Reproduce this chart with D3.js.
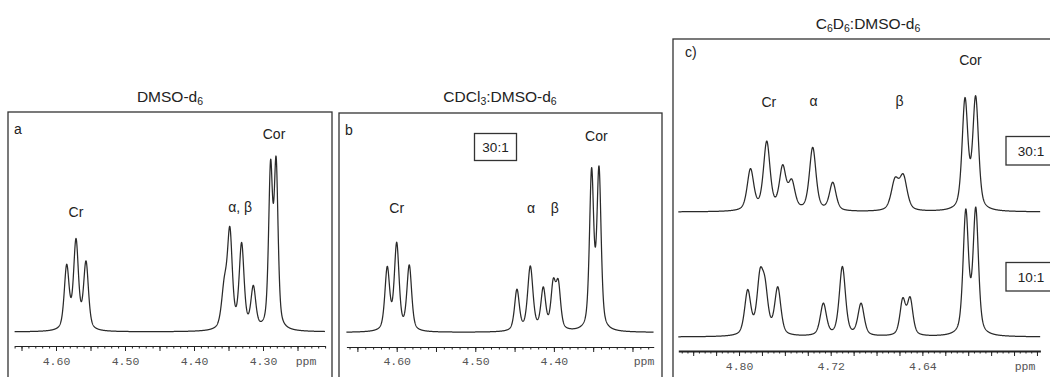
<!DOCTYPE html>
<html><head><meta charset="utf-8">
<script src="https://cdn.jsdelivr.net/npm/d3@7"></script>
<style>html,body{margin:0;padding:0;background:#fff;} svg{display:block;}</style>
</head><body>
<svg id="chart" width="1050" height="377"></svg>
<script>
// ---------------- DATA ----------------
// Panel a: DMSO-d6  (peak position ppm, intensity, half-width ppm)
const aPpm = [4.5845, 4.5710, 4.5565, 4.3560, 4.3480, 4.3310, 4.3140, 4.2890, 4.2810];
const aInt = [63, 88, 67, 40, 94, 84, 41, 157, 161];
const aHw  = [0.0042, 0.0042, 0.0042, 0.0048, 0.0042, 0.0042, 0.0042, 0.0034, 0.0034];
// Panel b: CDCl3:DMSO-d6 30:1
const bPpm = [4.6120, 4.6000, 4.5840, 4.4470, 4.4300, 4.4135, 4.4008, 4.3944, 4.3520, 4.3426];
const bInt = [62, 86, 65, 41, 64, 41, 44, 44, 156, 158];
const bHw  = [0.0036, 0.0036, 0.0036, 0.0036, 0.0040, 0.0036, 0.0035, 0.0035, 0.0032, 0.0032];
// Panel c: C6D6:DMSO-d6 30:1 (upper trace)
const c30Ppm = [4.7900, 4.7758, 4.7619, 4.7540, 4.7357, 4.7182, 4.6639, 4.6566, 4.6028, 4.5935];
const c30Int = [41, 68, 42, 27, 63, 28, 29, 33, 109, 111];
const c30Hw  = [0.0034, 0.0034, 0.0034, 0.0034, 0.0034, 0.0034, 0.0039, 0.0039, 0.0030, 0.0030];
// Panel c: C6D6:DMSO-d6 10:1 (lower trace)
const c10Ppm = [4.7924, 4.7817, 4.7773, 4.7662, 4.7264, 4.7098, 4.6935, 4.6571, 4.6507, 4.6021, 4.5934];
const c10Int = [44, 53, 40, 47, 32, 69, 32, 35, 36, 122, 124];
const c10Hw  = [0.0032, 0.0032, 0.0032, 0.0032, 0.0032, 0.0032, 0.0032, 0.0029, 0.0029, 0.0028, 0.0028];

// axis tick labels
const aTickLabels = [4.60, 4.50, 4.40, 4.30];
const bTickLabels = [4.60, 4.50, 4.40];
const cTickLabels = [4.80, 4.72, 4.64];

// peak annotation labels
const aLabels = [["Cr", 4.5710], ["α, β", 4.3330], ["Cor", 4.2840]];
const bLabels = [["Cr", 4.6000], ["α", 4.4290], ["β", 4.3990], ["Cor", 4.3460]];
const cLabels = [["Cr", 4.7740], ["α", 4.7350], ["β", 4.6600], ["Cor", 4.5980]];

// ---------------- DRAWING ----------------
const svg = d3.select("#chart");
const SANS = "'Liberation Sans', Arial, Helvetica, sans-serif";
const MONO = "'Liberation Mono', 'Courier New', monospace";
const INK = "#222";
const ETA = 0.5; // Lorentzian fraction of the line shape

function spectrumValue(ppms, ints, hws, p) {
  let s = 0;
  for (let i = 0; i < ppms.length; i++) {
    const u = (p - ppms[i]) / hws[i];
    s += ints[i] * (ETA / (1 + u * u) + (1 - ETA) * Math.exp(-Math.LN2 * u * u));
  }
  return s;
}

function title(g, parts, x, y) {
  const t = g.append("text").attr("x", x).attr("y", y).attr("text-anchor", "middle")
    .attr("font-family", SANS).attr("font-size", 15.5).attr("fill", INK);
  parts.forEach(([s, sub], i) => {
    const ts = t.append("tspan").text(s);
    if (sub) ts.attr("font-size", 10.5).attr("dy", 3);
    else ts.attr("dy", (i > 0 && parts[i - 1][1]) ? -3 : 0);
  });
}

function drawPanel(cfg) {
  const g = svg.append("g");
  g.append("rect").attr("x", cfg.box[0]).attr("y", cfg.box[1])
    .attr("width", cfg.box[2]).attr("height", 400)
    .attr("fill", "none").attr("stroke", "#333").attr("stroke-width", 1.3);

  const x = d3.scaleLinear().domain(cfg.domain).range(cfg.range);

  cfg.traces.forEach(tr => {
    const y = d3.scaleLinear().domain([0, 100]).range([tr.base, tr.base - 100]);
    const pts = [];
    const step = 0.0002;
    for (let p = cfg.domain[0]; p >= cfg.domain[1]; p -= step) {
      pts.push([p, spectrumValue(tr.ppm, tr.int, tr.hw, p)]);
    }
    const line = d3.line().x(d => x(d[0])).y(d => y(d[1]));
    g.append("path").attr("d", line(pts)).attr("fill", "none")
      .attr("stroke", "#2a2a2a").attr("stroke-width", 1.25).attr("stroke-linejoin", "round");
  });

  const lo = Math.min(...cfg.domain), hi = Math.max(...cfg.domain);
  const minor = d3.range(Math.ceil(lo / cfg.minorStep - 1e-6), Math.floor(hi / cfg.minorStep + 1e-6) + 1)
    .map(k => +(k * cfg.minorStep).toFixed(4));
  const major = d3.range(Math.ceil(lo / cfg.majorStep - 1e-6), Math.floor(hi / cfg.majorStep + 1e-6) + 1)
    .map(k => +(k * cfg.majorStep).toFixed(4));

  const axMinor = g.append("g").attr("transform", `translate(0,${cfg.axisY})`)
    .call(d3.axisBottom(x).tickValues(minor).tickSize(2.5).tickSizeOuter(0).tickFormat(""));
  const axMajor = g.append("g").attr("transform", `translate(0,${cfg.axisY})`)
    .call(d3.axisBottom(x).tickValues(major).tickSize(5).tickSizeOuter(0).tickFormat(""));
  const axLab = g.append("g").attr("transform", `translate(0,${cfg.axisY})`)
    .call(d3.axisBottom(x).tickValues(cfg.tickLabels).tickSize(0).tickPadding(cfg.labPad)
      .tickFormat(d3.format(".2f")));
  axLab.select(".domain").remove();
  axMinor.select(".domain").remove();
  axMajor.select(".domain").attr("stroke", INK).attr("stroke-width", cfg.axisW);
  [axMinor, axMajor].forEach(a => a.selectAll(".tick line").attr("stroke", INK).attr("stroke-width", 1));
  axLab.selectAll("text").attr("font-family", MONO).attr("font-size", 11.5).attr("fill", "#555");
  g.append("text").attr("x", cfg.ppmX).attr("y", cfg.axisY + cfg.labPad)
    .attr("dy", "0.71em").attr("text-anchor", "middle")
    .attr("font-family", MONO).attr("font-size", 11.5).attr("fill", "#555").text("ppm");

  g.append("text").attr("x", cfg.letter[1]).attr("y", cfg.letter[2])
    .attr("font-family", SANS).attr("font-size", 14).attr("fill", INK).text(cfg.letter[0]);

  cfg.labels.forEach(([t, p], i) => {
    g.append("text").attr("x", x(p)).attr("y", cfg.labelY[i]).attr("text-anchor", "middle")
      .attr("font-family", SANS).attr("font-size", 14).attr("fill", INK).text(t);
  });

  (cfg.ratios || []).forEach(r => {
    g.append("rect").attr("x", r.x).attr("y", r.y).attr("width", r.w).attr("height", r.h)
      .attr("fill", "#fff").attr("stroke", "#333").attr("stroke-width", 1.3);
    g.append("text").attr("x", r.tx).attr("y", r.y + r.h / 2 + 5).attr("text-anchor", "middle")
      .attr("font-family", SANS).attr("font-size", 13.5).attr("fill", INK).text(r.t);
  });

  title(g, cfg.title, cfg.titleX, cfg.titleY);
}

drawPanel({
  box: [8, 112, 324], domain: [4.66, 4.21], range: [14.6, 325.1],
  traces: [{ppm: aPpm, int: aInt, hw: aHw, base: 332}],
  axisY: 346, axisW: 1.2, minorStep: 0.01, majorStep: 0.05, tickLabels: aTickLabels, labPad: 11,
  ppmX: 306, letter: ["a", 14, 134],
  labels: aLabels, labelY: [217, 212, 139],
  title: [["DMSO-d", false], ["6", true]], titleX: 170, titleY: 102
});
drawPanel({
  box: [339, 113, 323], domain: [4.664, 4.273], range: [346.4, 653.7],
  traces: [{ppm: bPpm, int: bInt, hw: bHw, base: 332.5}],
  axisY: 347, axisW: 1.2, minorStep: 0.01, majorStep: 0.05, tickLabels: bTickLabels, labPad: 10,
  ppmX: 644, letter: ["b", 345, 135],
  labels: bLabels, labelY: [213, 213, 213, 141],
  ratios: [{x: 474.5, y: 133.5, w: 42, h: 27, t: "30:1", tx: 495.5}],
  title: [["CDCl", false], ["3", true], [":DMSO-d", false], ["6", true]], titleX: 500, titleY: 102
});
drawPanel({
  box: [673, 39, 400], domain: [4.853, 4.537], range: [678.3, 1040.4],
  traces: [{ppm: c30Ppm, int: c30Int, hw: c30Hw, base: 212},
           {ppm: c10Ppm, int: c10Int, hw: c10Hw, base: 337}],
  axisY: 351, axisW: 2, minorStep: 0.005, majorStep: 0.02, tickLabels: cTickLabels, labPad: 11,
  ppmX: 1025, letter: ["c)", 685, 57],
  labels: cLabels, labelY: [106.5, 106, 106, 65],
  ratios: [{x: 1006, y: 136.5, w: 52, h: 28.5, t: "30:1", tx: 1031},
           {x: 1006, y: 262.5, w: 52, h: 28.5, t: "10:1", tx: 1031}],
  title: [["C", false], ["6", true], ["D", false], ["6", true], [":DMSO-d", false], ["6", true]],
  titleX: 868, titleY: 28.5
});
</script>
</body></html>
